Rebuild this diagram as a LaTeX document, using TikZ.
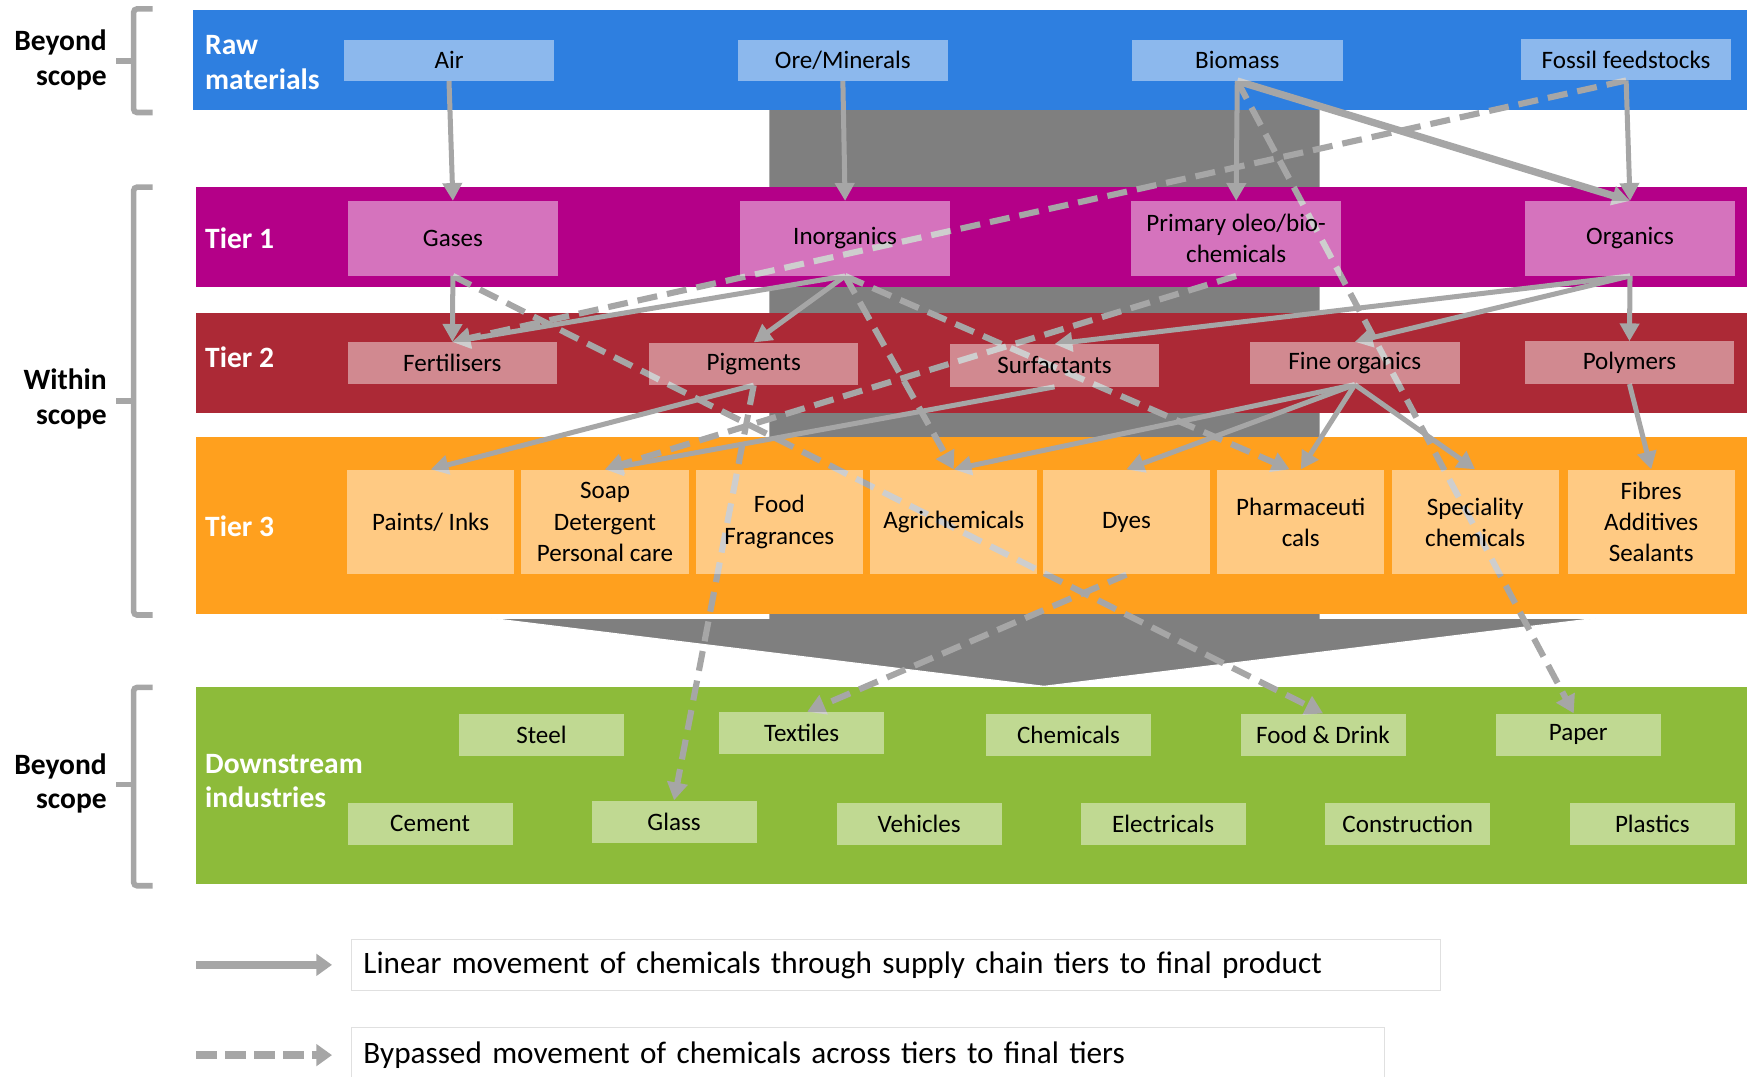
\documentclass[tikz,border=0pt]{standalone}
\usepackage{fontspec}
\setmainfont{Carlito}
\usepackage{tikz}
\usetikzlibrary{positioning, arrows.meta, calc}
\definecolor{rawblue}{RGB}{46,127,224}
\definecolor{tieronemag}{RGB}{180,0,136}
\definecolor{tiertwored}{RGB}{172,41,54}
\definecolor{tierthreeorange}{RGB}{255,160,30}
\definecolor{downgreen}{RGB}{141,187,58}
\definecolor{flowgray}{RGB}{166,166,166}
\definecolor{shaftgray}{RGB}{127,127,127}

\pgfdeclarelayer{back}
\pgfdeclarelayer{flows}
\pgfsetlayers{back,flows,main}

\begin{document}
\begin{tikzpicture}[x=1pt, y=-1pt,
		box/.style={fill=white, fill opacity=0.45, text opacity=1, inner sep=0pt, align=center, font=\fontsize{22.5}{28}\selectfont},
		rawbox/.style={box, minimum width=189pt, minimum height=37pt},
		tieronebox/.style={box, minimum width=189pt, minimum height=67pt},
		tiertwobox/.style={box, minimum width=188pt, minimum height=38pt},
		tierthreebox/.style={box, minimum width=150pt, minimum height=94pt},
		downbox/.style={box, minimum width=148pt, minimum height=38pt},
		bandlabel/.style={text=white, anchor=west, align=left, inner sep=0pt, font=\bfseries\fontsize{26.5}{31}\selectfont},
		scopelabel/.style={text=black, anchor=east, align=right, inner sep=0pt, font=\bfseries\fontsize{26.5}{31}\selectfont},
		bracket/.style={draw=flowgray, line width=5pt, rounded corners=3pt},
		linkline/.style={draw=flowgray, line width=4.5pt, -{Triangle[length=16pt,width=17pt]}},
		bypassline/.style={draw=flowgray, line width=5.5pt, dash pattern=on 18pt off 9pt, -{Triangle[length=16pt,width=18pt]}},
		keybox/.style={draw=black!12, fill=white, anchor=west, inner xsep=11pt, inner ysep=0pt, align=left, font=\fontsize{28}{32}\selectfont},
		keylink/.style={draw=flowgray, line width=7pt, shorten >=17pt, -{Triangle[length=14pt,width=19pt]}},
		keybypass/.style={keylink, dash pattern=on 19pt off 7pt}
	]
	\useasboundingbox (0,0) rectangle (1568,966);
	
	\pgfmathsetmacro{\rawy}{54}
	\pgfmathsetmacro{\oney}{214}
	\pgfmathsetmacro{\twoy}{326.5}
	\pgfmathsetmacro{\threey}{468.5}
	\pgfmathsetmacro{\downtopy}{659.5}
	\pgfmathsetmacro{\downboty}{739.5}
	
	\begin{pgfonlayer}{back}
		%% big grey arrow behind the tiers
		\draw[fill=shaftgray, draw=white, line width=1pt] (690,98) -- (1185,98) -- (1185,555) -- (1432,555) -- (937,616) -- (441,555) -- (690,555) -- cycle;
		
		\fill[rawblue] (173,9) rectangle (1568,99);
		\fill[tieronemag] (176,168) rectangle (1568,258);
		\fill[tiertwored] (176,281) rectangle (1568,371);
		\fill[tierthreeorange] (176,392) rectangle (1568,551);
		\fill[downgreen] (176,617) rectangle (1568,793);
	\end{pgfonlayer}
	
	%% scope brackets
	\draw[bracket] (137,8) -- (120,8) -- (120,101) -- (137,101);
	\draw[bracket] (120,55) -- (104,55);
	\draw[bracket] (137,168) -- (120,168) -- (120,552) -- (137,552);
	\draw[bracket] (120,360) -- (104,360);
	\draw[bracket] (137,617) -- (120,617) -- (120,795) -- (137,795);
	\draw[bracket] (120,704) -- (104,704);
	
	\node[scopelabel] (scopetop) at (96,54) {Beyond\\scope};
	\node[scopelabel] (scopemid) at (96,358) {Within\\scope};
	\node[scopelabel] (scopebot) at (96,703) {Beyond\\scope};
	
	\node[bandlabel] (lblraw) at (184,56) {Raw\\materials};
	\node[bandlabel] (lblone) at (184,214) {Tier 1};
	\node[bandlabel] (lbltwo) at (184,321) {Tier 2};
	\node[bandlabel] (lblthree) at (184,472) {Tier 3};
	\node[bandlabel] (lbldown) at (184,701) {Downstream\\industries};
	
	%% raw materials
	\node[rawbox] (air) at (403,\rawy) {Air};
	\node[rawbox] (ore) at (756.5,\rawy) {Ore/Minerals};
	\node[rawbox] (biomass) at (1110.5,\rawy) {Biomass};
	\node[rawbox] (fossil) at (1459.5,\rawy-0.5) {Fossil feedstocks};
	
	%% tier 1
	\node[tieronebox] (gases) at (406.5,\oney) {Gases};
	\node[tieronebox] (inorg) at (758.5,\oney) {Inorganics};
	\node[tieronebox] (oleo) at (1109.5,\oney) {Primary oleo/bio-\\chemicals};
	\node[tieronebox] (organics) at (1463,\oney) {Organics};
	
	%% tier 2
	\node[tiertwobox] (fert) at (406,\twoy-0.5) {Fertilisers};
	\node[tiertwobox] (pigm) at (676.5,\twoy) {Pigments};
	\node[tiertwobox] (surf) at (946.5,\twoy+1.5) {Surfactants};
	\node[tiertwobox] (fineorg) at (1216,\twoy-0.5) {Fine organics};
	\node[tiertwobox] (polym) at (1462.5,\twoy-1) {Polymers};
	
	%% tier 3
	\node[tierthreebox] (paints) at (386.5,\threey) {Paints/ Inks};
	\node[tierthreebox] (soap) at (543,\threey) {Soap\\Detergent\\Personal care};
	\node[tierthreebox] (food) at (699.5,\threey) {Food\\Fragrances};
	\node[tierthreebox] (agri) at (856,\threey) {Agrichemicals};
	\node[tierthreebox] (dyes) at (1011,\threey) {Dyes};
	\node[tierthreebox] (pharma) at (1167.5,\threey) {Pharmaceuti\\cals};
	\node[tierthreebox] (special) at (1324,\threey) {Speciality\\chemicals};
	\node[tierthreebox] (fibres) at (1482,\threey) {Fibres\\Additives\\Sealants};
	
	%% downstream industries
	\node[downbox] (steel) at (486,\downtopy) {Steel};
	\node[downbox] (textiles) at (719.5,\downtopy-1.5) {Textiles};
	\node[downbox] (chemicals) at (959,\downtopy) {Chemicals};
	\node[downbox] (fooddrink) at (1187.5,\downtopy) {Food \& Drink};
	\node[downbox] (paper) at (1416.5,\downtopy) {Paper};
	\node[downbox] (cement) at (386,\downboty) {Cement};
	\node[downbox] (glass) at (605,\downboty-2) {Glass};
	\node[downbox] (vehicles) at (825,\downboty) {Vehicles};
	\node[downbox] (electricals) at (1044,\downboty) {Electricals};
	\node[downbox] (construction) at (1263.5,\downboty) {Construction};
	\node[downbox] (plastics) at (1483,\downboty) {Plastics};
	
	\begin{pgfonlayer}{flows}
		%% linear flows
		\draw[linkline] (air.south) -- (gases.north);
		\draw[linkline] (ore.south) -- (inorg.north);
		\draw[linkline] (biomass.south) -- (oleo.north);
		\draw[linkline, line width=6.5pt] (biomass.south) -- (organics.north);
		\draw[linkline] (fossil.south) -- (organics.north);
		\draw[linkline] (gases.south) -- (fert.north);
		\draw[linkline] (inorg.south) -- (fert.north);
		\draw[linkline] (inorg.south) -- (pigm.north);
		\draw[linkline] (organics.south) -- (surf.north);
		\draw[linkline] (organics.south) -- (fineorg.north);
		\draw[linkline] (organics.south) -- (polym.north);
		\draw[linkline] (pigm.south) -- (paints.north);
		\draw[linkline] (surf.south) -- (soap.north);
		\draw[linkline] (fineorg.south) -- (agri.north);
		\draw[linkline] (fineorg.south) -- (dyes.north);
		\draw[linkline] (fineorg.south) -- (pharma.north);
		\draw[linkline] (fineorg.south) -- (special.north);
		\draw[linkline] (polym.south) -- (fibres.north);
		
		%% bypassed flows
		\draw[bypassline] (fossil.south) -- (fert.north);
		\draw[bypassline] (gases.south) -- (fooddrink.north);
		\draw[bypassline] (inorg.south) -- (agri.north);
		\draw[bypassline] (inorg.south) -- ([xshift=-10pt]pharma.north);
		\draw[bypassline] (oleo.south) -- (soap.north);
		\draw[bypassline] (biomass.south) -- ([xshift=-4pt]paper.north);
		\draw[bypassline] (pigm.south) -- (glass.north);
		\draw[bypassline] (dyes.south) -- ([xshift=5pt]textiles.north);
	\end{pgfonlayer}
	
	%% key
	\node[keybox, minimum height=46pt, text width=955pt] (keylinear) at (315,866) {Linear movement of chemicals through supply chain tiers to final product};
	\node[keybox, minimum height=50pt, text width=905pt] (keybypass) at (315,947) {Bypassed movement of chemicals across tiers to final tiers};
	\coordinate (keylinearstart) at (176,866);
	\coordinate (keybypassstart) at (176,947);
	\draw[keylink] (keylinearstart) -- (keylinear.west);
	\draw[keybypass] (keybypassstart) -- (keybypass.west);
\end{tikzpicture}
\end{document}
